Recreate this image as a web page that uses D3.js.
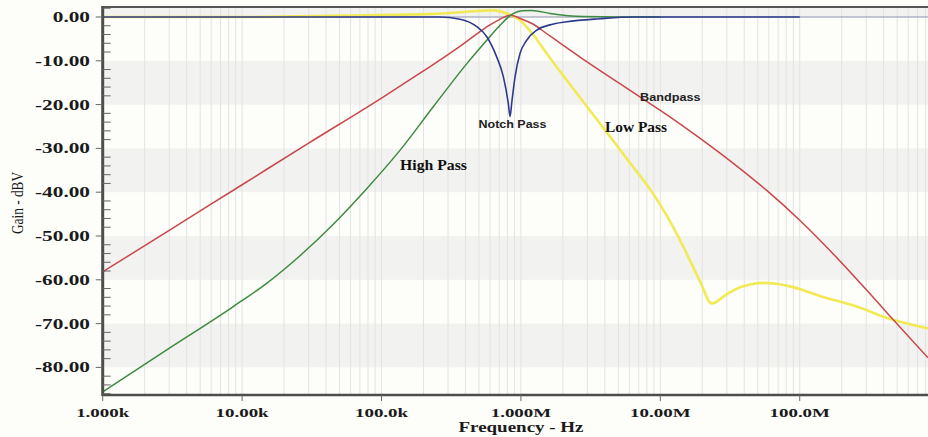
<!DOCTYPE html>
<html><head><meta charset="utf-8">
<script src="https://cdn.jsdelivr.net/npm/d3@7"></script>
<style>html,body{margin:0;padding:0;background:#fdfdfa;} svg{display:block;}</style>
</head><body>
<svg id="chart" width="928" height="437"></svg>
<script>
// ---- data ----
const yTickValues = [0, -10, -20, -30, -40, -50, -60, -70, -80];
const yTickLabels = ["0.00", "-10.00", "-20.00", "-30.00", "-40.00", "-50.00", "-60.00", "-70.00", "-80.00"];
const xTickValues = [1e3, 1e4, 1e5, 1e6, 1e7, 1e8];
const xTickLabels = ["1.000k", "10.00k", "100.0k", "1.000M", "10.00M", "100.0M"];

const bandFreq = [1e3, 3e3, 1e4, 3e4, 1e5, 2e5, 3e5, 4e5, 5e5, 6e5, 7e5, 8.36e5, 1e6, 1.22e6, 1.5e6, 2e6, 3e6, 5e6, 7.18e6, 1e7, 1.93e7, 3.34e7, 5.8e7, 1e8, 1.74e8, 3.03e8, 4.3e8, 8.32e8];
const bandGain = [-58.2, -48.7, -38.3, -28.8, -18.5, -12.3, -8.6, -5.8, -3.5, -1.8, -0.6, 0.4, -0.4, -1.6, -3.6, -6.4, -10.3, -15.0, -18.3, -21.3, -27.7, -33.4, -39.6, -46.4, -54.1, -62.4, -67.8, -77.8];

const highFreq = [1e3, 2.88e3, 8.65e3, 1.5e4, 2.6e4, 4.51e4, 7.83e4, 1.36e5, 2.35e5, 4.08e5, 5.69e5, 7.08e5, 8.36e5, 1.02e6, 1.2e6, 1.62e6, 2.79e6, 5e6, 1e7];
const highGain = [-85.6, -76.0, -66.1, -60.8, -54.5, -47.3, -39.2, -30.4, -20.5, -10.7, -5.3, -1.9, 0.3, 1.4, 1.5, 0.8, 0.1, 0, 0];

const lowFreq = [1e3, 1e4, 5.04e4, 2.34e5, 4.08e5, 6.31e5, 7.94e5, 9.8e5, 1.22e6, 1.62e6, 2.13e6, 2.79e6, 3.69e6, 4.86e6, 6.37e6, 8.43e6, 1.11e7, 1.46e7, 1.93e7, 2.34e7, 2.99e7, 3.73e7, 4.5e7, 5.48e7, 6.8e7, 8.52e7, 1.47e8, 2.56e8, 4.3e8, 8.32e8];
const lowGain = [0, 0, 0.3, 0.7, 1.2, 1.5, 0.8, -0.7, -4.0, -9.4, -14.4, -19.3, -24.3, -29.3, -34.2, -39.3, -45.3, -52.4, -60.4, -65.4, -63.3, -61.7, -61.0, -60.7, -60.9, -61.5, -63.9, -66.1, -68.8, -71.1];

const notchFreq = [1e3, 1e4, 1e5, 2.6e5, 3.66e5, 4.82e5, 5.69e5, 6.7e5, 7.48e5, 8.12e5, 8.36e5, 8.6e5, 9.08e5, 9.86e5, 1.10e6, 1.30e6, 1.62e6, 2.13e6, 3.69e6, 6.37e6, 1e7, 1e8];
const notchGain = [0, 0, 0, 0, -0.5, -2.2, -4.5, -9.1, -13.6, -19.7, -22.7, -19.5, -13.6, -8.3, -5.3, -3.0, -1.8, -1.1, -0.4, 0, 0, 0];

const seriesNames = ["Low Pass", "Bandpass", "High Pass", "Notch Pass"];
const seriesColors = ["#f2ea55", "#c9474c", "#3d8b41", "#2f3a8c"];

// ---- layout ----
const svg = d3.select("#chart");
const W = 928, H = 437;
const plot = {left: 102.7, right: 928, top: 7, bottom: 395};
const x = d3.scaleLog().domain([1e3, 8.32e8]).range([plot.left, plot.right]);
const y = d3.scaleLinear().domain([-86.3, 2.28]).range([plot.bottom, plot.top]);

svg.append("rect").attr("width", W).attr("height", H).attr("fill", "#fdfdfa");
svg.append("defs").append("clipPath").attr("id", "clip")
  .append("rect").attr("x", plot.left).attr("y", plot.top)
  .attr("width", plot.right - plot.left).attr("height", plot.bottom - plot.top);

const g = svg.append("g").attr("clip-path", "url(#clip)");

// shaded bands (every other 10 dB interval)
const bandTops = [10, -10, -30, -50, -70];
g.selectAll("rect.band").data(bandTops).join("rect").attr("class", "band")
  .attr("x", plot.left).attr("width", plot.right - plot.left)
  .attr("y", d => y(d)).attr("height", d => y(d - 10) - y(d))
  .attr("fill", "#f2f2f0");

// vertical log grid
const gridF = [];
for (let dec = 1e3; dec <= 1e9; dec *= 10) for (let m = 1; m <= 9; m++) { const f = dec * m; if (f <= 8.32e8) gridF.push(f); }
g.selectAll("line.vg").data(gridF).join("line").attr("class", "vg")
  .attr("x1", d => x(d)).attr("x2", d => x(d))
  .attr("y1", plot.top).attr("y2", plot.bottom)
  .attr("stroke", "#e3e3e1").attr("stroke-width", 1);

// zero reference line
g.append("line").attr("x1", plot.left).attr("x2", plot.right)
  .attr("y1", y(0)).attr("y2", y(0)).attr("stroke", "#8d93ad").attr("stroke-width", 1.2);

// series
const line = d3.line().x(d => x(d[0])).y(d => y(d[1])).curve(d3.curveMonotoneX);
const seriesData = [
  d3.zip(lowFreq, lowGain),
  d3.zip(bandFreq, bandGain),
  d3.zip(highFreq, highGain),
  d3.zip(notchFreq, notchGain)
];
const widths = [2.6, 1.5, 1.5, 1.6];
seriesData.forEach((s, i) => {
  g.append("path").datum(s).attr("d", line).attr("fill", "none")
    .attr("stroke", seriesColors[i]).attr("stroke-width", widths[i])
    .attr("stroke-linejoin", "round");
});

// frame
svg.append("line").attr("x1", plot.left).attr("x2", plot.right).attr("y1", plot.top).attr("y2", plot.top)
  .attr("stroke", "#555").attr("stroke-width", 2);
svg.append("line").attr("x1", plot.left).attr("x2", plot.right).attr("y1", plot.bottom).attr("y2", plot.bottom)
  .attr("stroke", "#4d4d4d").attr("stroke-width", 2.5);
svg.append("line").attr("x1", plot.left).attr("x2", plot.left).attr("y1", plot.top - 1).attr("y2", plot.bottom + 1)
  .attr("stroke", "#4d4d4d").attr("stroke-width", 3);

// y axis ticks
const yMinor = d3.range(-86, 2.5, 2).filter(v => v % 10 !== 0);
svg.selectAll("line.ymin").data(yMinor).join("line").attr("class", "ymin")
  .attr("x1", plot.left).attr("x2", plot.left + 8)
  .attr("y1", d => y(d)).attr("y2", d => y(d))
  .attr("stroke", "#666").attr("stroke-width", 1);
svg.selectAll("line.ymaj").data(yTickValues).join("line").attr("class", "ymaj")
  .attr("x1", plot.left - 7).attr("x2", plot.left)
  .attr("y1", d => y(d)).attr("y2", d => y(d))
  .attr("stroke", "#666").attr("stroke-width", 1);

function stretchedText(parent, str, opts) {
  const t = parent.append("text").text(str)
    .attr("font-family", opts.family).attr("font-size", opts.size)
    .attr("font-weight", opts.weight || "normal").attr("fill", opts.fill || "#111")
    .attr("x", 0).attr("y", opts.y);
  const natural = t.node().getComputedTextLength();
  const len = opts.width != null ? opts.width : natural * opts.factor;
  t.attr("textLength", len).attr("lengthAdjust", "spacingAndGlyphs");
  let left;
  if (opts.anchor === "end") left = opts.x - len;
  else if (opts.anchor === "middle") left = opts.x - len / 2;
  else left = opts.x;
  t.attr("x", left);
  return t;
}

const serif = "'Liberation Serif','Times New Roman',Times,serif";
const sans = "'Liberation Sans',Arial,Helvetica,sans-serif";

yTickValues.forEach((v, i) => {
  stretchedText(svg, yTickLabels[i], {family: serif, size: 14, weight: "bold", factor: 1.52,
    x: 90, y: y(v) + 5, anchor: "end", fill: "#1a1a1a"});
});

// x axis ticks
svg.selectAll("line.xmaj").data(xTickValues).join("line").attr("class", "xmaj")
  .attr("x1", d => x(d)).attr("x2", d => x(d))
  .attr("y1", plot.bottom).attr("y2", plot.bottom + 6)
  .attr("stroke", "#666").attr("stroke-width", 1);
xTickValues.forEach((v, i) => {
  stretchedText(svg, xTickLabels[i], {family: serif, size: 13.5, weight: "bold", factor: 1.4,
    x: x(v), y: 417, anchor: "middle", fill: "#1a1a1a"});
});

// axis titles
stretchedText(svg, "Frequency - Hz", {family: serif, size: 15, weight: "bold", width: 125,
  x: 458.5, y: 432, anchor: "start", fill: "#1a1a1a"});
const yTitle = svg.append("g").attr("transform", "translate(23,234) rotate(-90)");
stretchedText(yTitle, "Gain - dBV", {family: serif, size: 17, weight: "normal", width: 62,
  x: 0, y: 0, anchor: "start", fill: "#1a1a1a"});

// curve labels
stretchedText(svg, "Notch Pass", {family: sans, size: 10.5, weight: "bold", width: 68,
  x: 478.5, y: 128.3, anchor: "start", fill: "#222"});
stretchedText(svg, "Bandpass", {family: sans, size: 10.5, weight: "bold", width: 60.5,
  x: 640, y: 100.8, anchor: "start", fill: "#222"});
stretchedText(svg, "Low Pass", {family: serif, size: 14, weight: "bold", width: 62,
  x: 605, y: 131.5, anchor: "start", fill: "#111"});
stretchedText(svg, "High Pass", {family: serif, size: 14, weight: "bold", width: 67,
  x: 400, y: 170, anchor: "start", fill: "#111"});
</script>
</body></html>
